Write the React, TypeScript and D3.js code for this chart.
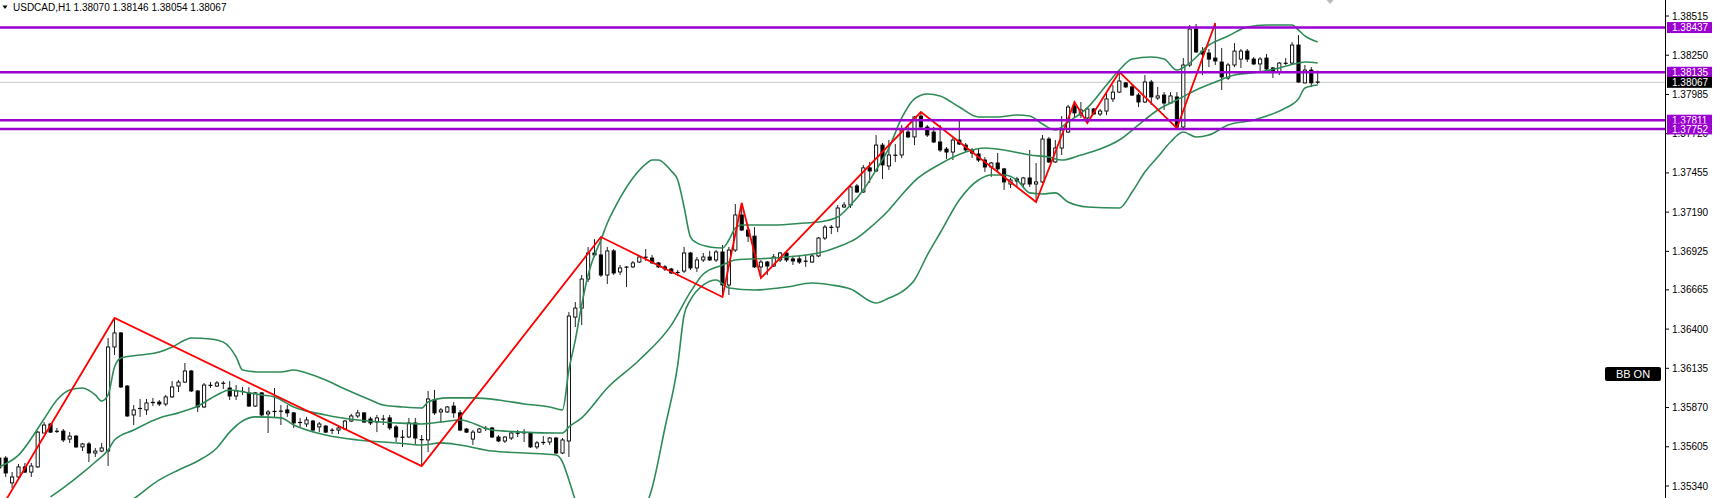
import * as d3 from "d3";

const symbol = "USDCAD,H1";
const lastQuote = ["1.38070", "1.38146", "1.38054", "1.38067"];

const opens = [
  1.35529, 1.35529, 1.35361, 1.35401, 1.35469, 1.35434, 1.35469, 1.35698, 1.35759, 1.35711,
  1.35711, 1.35657, 1.35677, 1.35604, 1.35624, 1.35563, 1.35576, 1.35576, 1.36279, 1.36374,
  1.36015, 1.3582, 1.3586, 1.35854, 1.35901, 1.35907, 1.35894, 1.35942, 1.36015, 1.36042,
  1.36117, 1.35982, 1.35874, 1.36022, 1.36015, 1.36036, 1.36002, 1.35948, 1.35982, 1.35969,
  1.3588, 1.35969, 1.35827, 1.35847, 1.35847, 1.35854, 1.35834, 1.35766, 1.35759, 1.35779,
  1.35739, 1.35745, 1.35718, 1.35718, 1.35725, 1.35779, 1.35813, 1.35834, 1.35793, 1.35772,
  1.35793, 1.358, 1.35739, 1.35671, 1.35671, 1.35766, 1.35651, 1.35651, 1.35921, 1.3584,
  1.3584, 1.3588, 1.35834, 1.35725, 1.35657, 1.35704, 1.35725, 1.35732, 1.35671, 1.35644,
  1.35664, 1.35698, 1.35698, 1.35698, 1.35604, 1.35631, 1.35637, 1.35664, 1.35563, 1.35644,
  1.36481, 1.36542, 1.36738, 1.36914, 1.36901, 1.36765, 1.36928, 1.36786, 1.3682, 1.3682,
  1.36853, 1.36887, 1.3688, 1.36847, 1.3682, 1.36806, 1.36779, 1.36792, 1.36914, 1.36813,
  1.36867, 1.36887, 1.36867, 1.36921, 1.36698, 1.36934, 1.37171, 1.37069, 1.37028, 1.3682,
  1.36853, 1.36826, 1.36867, 1.36914, 1.36874, 1.36874, 1.3686, 1.36853, 1.36894, 1.37015,
  1.37089, 1.37089, 1.37225, 1.37238, 1.37367, 1.37326, 1.37489, 1.37468, 1.37643, 1.37502,
  1.37576, 1.37576, 1.37731, 1.37698, 1.37839, 1.37765, 1.37731, 1.37664, 1.37616, 1.37596,
  1.37677, 1.37643, 1.3761, 1.37583, 1.37542, 1.37495, 1.37522, 1.37482, 1.3738, 1.37414,
  1.3738, 1.37421, 1.3738, 1.37394, 1.37684, 1.37529, 1.37623, 1.37731, 1.37907, 1.37846,
  1.37826, 1.37887, 1.37853, 1.37873, 1.37955, 1.38001, 1.38063, 1.38036, 1.37981, 1.37934,
  1.38069, 1.37961, 1.37981, 1.37927, 1.37968, 1.37765, 1.38184, 1.38427, 1.38278, 1.38265,
  1.38231, 1.38204, 1.38096, 1.38184, 1.38224, 1.38278, 1.38224, 1.38191, 1.38231, 1.38164,
  1.38137, 1.38197, 1.38197, 1.38319, 1.38063, 1.3815, 1.3807
];

const highs = [
  1.35542, 1.35542, 1.35434, 1.35489, 1.35496, 1.35496, 1.35711, 1.35772, 1.35766, 1.35732,
  1.35725, 1.35704, 1.35684, 1.35631, 1.35637, 1.35597, 1.35631, 1.3634, 1.36475, 1.3638,
  1.36022, 1.35887, 1.35928, 1.35928, 1.35935, 1.35921, 1.35955, 1.36049, 1.36056, 1.36171,
  1.36124, 1.35989, 1.36036, 1.36042, 1.36049, 1.36049, 1.36049, 1.36022, 1.36009, 1.36009,
  1.35975, 1.35975, 1.35854, 1.36002, 1.35887, 1.35887, 1.3584, 1.358, 1.35807, 1.35786,
  1.35772, 1.35752, 1.35732, 1.35752, 1.35786, 1.35827, 1.35854, 1.35836, 1.35807, 1.3582,
  1.3582, 1.3582, 1.35752, 1.35718, 1.358, 1.358, 1.35684, 1.35982, 1.35989, 1.35867,
  1.3588, 1.35907, 1.35854, 1.35732, 1.35718, 1.35732, 1.35745, 1.35739, 1.35684, 1.35677,
  1.35704, 1.35718, 1.35725, 1.35704, 1.35644, 1.35677, 1.35671, 1.35671, 1.35664, 1.36515,
  1.36583, 1.36765, 1.36955, 1.37008, 1.37022, 1.36955, 1.36941, 1.36833, 1.36826, 1.3686,
  1.369, 1.36941, 1.369, 1.36853, 1.36833, 1.36813, 1.36799, 1.36955, 1.36921, 1.36887,
  1.36914, 1.36928, 1.36934, 1.36968, 1.36955, 1.37245, 1.37252, 1.37089, 1.37089, 1.36867,
  1.3686, 1.36907, 1.36921, 1.36921, 1.36887, 1.36894, 1.369, 1.36907, 1.37022, 1.37103,
  1.37103, 1.37238, 1.37258, 1.3738, 1.3738, 1.37509, 1.37529, 1.37711, 1.37657, 1.37677,
  1.3765, 1.37779, 1.37779, 1.37839, 1.37866, 1.37779, 1.37765, 1.37779, 1.3763, 1.37691,
  1.37812, 1.37657, 1.37623, 1.37623, 1.37562, 1.37529, 1.3759, 1.37489, 1.37421, 1.37428,
  1.37428, 1.3761, 1.37522, 1.37711, 1.37698, 1.37677, 1.37839, 1.37914, 1.37934, 1.37934,
  1.37894, 1.37894, 1.37887, 1.38001, 1.38049, 1.38137, 1.38069, 1.38049, 1.37995, 1.38116,
  1.38083, 1.38036, 1.38001, 1.38001, 1.38001, 1.38231, 1.38454, 1.38461, 1.38305, 1.38292,
  1.38468, 1.38299, 1.38197, 1.38332, 1.38292, 1.38292, 1.38238, 1.38238, 1.38258, 1.3817,
  1.38204, 1.38231, 1.38339, 1.38386, 1.38184, 1.3817, 1.38146
];

const lows = [
  1.35434, 1.35401, 1.35327, 1.35381, 1.35428, 1.35401, 1.35462, 1.35698, 1.35698, 1.35698,
  1.35637, 1.35631, 1.35597, 1.35576, 1.35502, 1.35536, 1.35569, 1.35475, 1.36225, 1.36002,
  1.35807, 1.35752, 1.35807, 1.3582, 1.3588, 1.3588, 1.3588, 1.35935, 1.35975, 1.36036,
  1.35975, 1.3584, 1.35867, 1.36002, 1.36009, 1.35995, 1.35921, 1.35921, 1.35955, 1.35874,
  1.35874, 1.35807, 1.35698, 1.358, 1.35752, 1.35807, 1.35732, 1.35732, 1.35739, 1.35704,
  1.35704, 1.35698, 1.35691, 1.35691, 1.35718, 1.35772, 1.358, 1.35766, 1.35752, 1.35704,
  1.35752, 1.35718, 1.35637, 1.35604, 1.35664, 1.35617, 1.35475, 1.35569, 1.3582, 1.35766,
  1.35834, 1.358, 1.35711, 1.35698, 1.35617, 1.35698, 1.35711, 1.35664, 1.35637, 1.35631,
  1.35651, 1.35671, 1.35637, 1.35597, 1.3559, 1.35617, 1.35617, 1.35556, 1.35556, 1.35536,
  1.36414, 1.36427, 1.36718, 1.36887, 1.36752, 1.36705, 1.36765, 1.36765, 1.36684, 1.36813,
  1.36847, 1.3686, 1.3684, 1.36813, 1.36792, 1.36772, 1.36758, 1.36779, 1.36799, 1.36786,
  1.36853, 1.3686, 1.36853, 1.36617, 1.3663, 1.36921, 1.37062, 1.36988, 1.36813, 1.36745,
  1.36765, 1.3682, 1.36853, 1.36853, 1.36833, 1.3684, 1.3682, 1.36847, 1.36887, 1.37002,
  1.37042, 1.37055, 1.37218, 1.37218, 1.3732, 1.3732, 1.37387, 1.37462, 1.37414, 1.37475,
  1.37529, 1.37556, 1.37691, 1.37643, 1.37758, 1.37698, 1.37657, 1.37596, 1.37549, 1.37542,
  1.37643, 1.37596, 1.37556, 1.37529, 1.37462, 1.37428, 1.37455, 1.3734, 1.37353, 1.3736,
  1.3736, 1.3736, 1.37258, 1.37387, 1.37522, 1.37522, 1.37576, 1.37725, 1.37833, 1.37826,
  1.37792, 1.37846, 1.37839, 1.37846, 1.37934, 1.37995, 1.38029, 1.37975, 1.379, 1.37927,
  1.37914, 1.37948, 1.3788, 1.37921, 1.37758, 1.37758, 1.3817, 1.38265, 1.38116, 1.3817,
  1.38184, 1.38015, 1.38083, 1.3817, 1.38164, 1.38204, 1.38184, 1.38137, 1.38137, 1.38096,
  1.38116, 1.38184, 1.38184, 1.38063, 1.3806, 1.38036, 1.38054
];

const closes = [
  1.35462, 1.35428, 1.35401, 1.35469, 1.35434, 1.35475, 1.35704, 1.35752, 1.35704, 1.35708,
  1.35651, 1.35677, 1.35604, 1.35624, 1.35563, 1.35576, 1.35597, 1.36279, 1.36374, 1.36009,
  1.35813, 1.35854, 1.35867, 1.35901, 1.35907, 1.35894, 1.35942, 1.36009, 1.36042, 1.36117,
  1.35982, 1.35874, 1.36022, 1.36018, 1.36036, 1.36032, 1.35948, 1.35982, 1.35975, 1.3588,
  1.35969, 1.3582, 1.3584, 1.3584, 1.35844, 1.35834, 1.35766, 1.35772, 1.35786, 1.35718,
  1.35759, 1.35704, 1.35715, 1.35732, 1.35779, 1.35813, 1.35834, 1.35772, 1.35766, 1.358,
  1.3579, 1.35732, 1.35671, 1.35668, 1.35766, 1.35664, 1.35655, 1.35928, 1.35834, 1.35854,
  1.35874, 1.35834, 1.35718, 1.35704, 1.35704, 1.35725, 1.35732, 1.35671, 1.35644, 1.35671,
  1.35698, 1.35695, 1.35701, 1.35604, 1.35631, 1.35637, 1.35664, 1.35563, 1.35651, 1.36488,
  1.36542, 1.36738, 1.36914, 1.36901, 1.36765, 1.36928, 1.36779, 1.36813, 1.36817, 1.36847,
  1.36887, 1.36884, 1.36847, 1.3682, 1.36806, 1.36779, 1.36786, 1.36914, 1.36813, 1.36867,
  1.36887, 1.36867, 1.36921, 1.36698, 1.36934, 1.37171, 1.37069, 1.37028, 1.3682, 1.36853,
  1.36826, 1.36887, 1.36914, 1.36867, 1.3686, 1.36853, 1.36857, 1.36894, 1.37015, 1.37089,
  1.37086, 1.37218, 1.37238, 1.3736, 1.37326, 1.37489, 1.37468, 1.37643, 1.37509, 1.37576,
  1.37573, 1.37745, 1.37698, 1.37833, 1.37765, 1.37711, 1.37664, 1.3761, 1.37596, 1.37677,
  1.3765, 1.3761, 1.37589, 1.37542, 1.37495, 1.37522, 1.37482, 1.37394, 1.37407, 1.374,
  1.37421, 1.3738, 1.37394, 1.37684, 1.37529, 1.37623, 1.37745, 1.379, 1.3786, 1.3788,
  1.37887, 1.37853, 1.37873, 1.37955, 1.38001, 1.38076, 1.38036, 1.37981, 1.37934, 1.38069,
  1.37968, 1.37975, 1.37927, 1.37975, 1.37765, 1.38184, 1.38427, 1.38272, 1.38258, 1.38224,
  1.38211, 1.38103, 1.38184, 1.38278, 1.38278, 1.38224, 1.38191, 1.38224, 1.38157, 1.38137,
  1.38197, 1.38194, 1.38319, 1.38069, 1.3815, 1.38063, 1.38067
];

const upperBand: [number, number][] = [
  [0, 1.35469], [3, 1.35549], [7, 1.35793], [9, 1.35921], [11, 1.35989], [13, 1.36002], [15, 1.35955],
  [16, 1.35914], [17, 1.35955], [18, 1.36144], [19, 1.36205], [22, 1.36225], [25, 1.36245], [27, 1.36279],
  [29, 1.36326], [30, 1.3634], [33, 1.36333], [35, 1.36312], [37, 1.36212], [38, 1.36124], [41, 1.3611],
  [44, 1.3611], [46, 1.36124], [48, 1.36104], [51, 1.36056], [54, 1.35995], [58, 1.35921], [60, 1.35887],
  [63, 1.35874], [66, 1.35867], [67, 1.35907], [70, 1.35935], [74, 1.35935], [78, 1.35921], [82, 1.35894],
  [86, 1.35874], [88, 1.35854], [89, 1.36124], [90, 1.36326], [91, 1.36563], [92, 1.36765], [93, 1.369],
  [94, 1.37002], [95, 1.37117], [96, 1.37205], [97, 1.37286], [99, 1.37421], [101, 1.37515], [102, 1.37542],
  [103, 1.37542], [104, 1.37515], [105, 1.37468], [106, 1.37407], [107, 1.37225], [108, 1.37022], [109, 1.36982],
  [111, 1.36955], [113, 1.36948], [114, 1.37002], [115, 1.37083], [116, 1.37103], [121, 1.37103], [126, 1.37117],
  [128, 1.37123], [131, 1.37157], [133, 1.37238], [135, 1.3734], [137, 1.37475], [139, 1.37623], [141, 1.37826],
  [143, 1.37955], [145, 1.37988], [147, 1.37975], [150, 1.379], [153, 1.37833], [156, 1.37833], [159, 1.37846],
  [161, 1.37839], [163, 1.37785], [165, 1.37745], [167, 1.37799], [170, 1.37894], [173, 1.38049], [175, 1.3815],
  [177, 1.38224], [180, 1.38238], [182, 1.38224], [184, 1.3815], [186, 1.38197], [189, 1.38319], [192, 1.3838],
  [195, 1.38441], [198, 1.38454], [202, 1.38454], [203, 1.3842], [204, 1.3838], [206, 1.38339]
];

const middleBand: [number, number][] = [
  [8, 1.35266], [10, 1.35327], [13, 1.35428], [15, 1.35502], [17, 1.35583], [18, 1.35651], [21, 1.35718],
  [25, 1.358], [28, 1.35834], [31, 1.3588], [34, 1.35955], [36, 1.35989], [39, 1.35969], [41, 1.35955],
  [43, 1.35942], [46, 1.35874], [51, 1.3582], [56, 1.35786], [62, 1.35766], [66, 1.35759], [69, 1.35772],
  [72, 1.35786], [77, 1.35718], [82, 1.35704], [87, 1.35698], [88, 1.35698], [89, 1.35739], [91, 1.358],
  [95, 1.36002], [100, 1.36191], [105, 1.36427], [108, 1.36651], [110, 1.36772], [113, 1.36833], [115, 1.36867],
  [121, 1.3688], [126, 1.369], [128, 1.36914], [131, 1.36955], [134, 1.37015], [136, 1.37083], [139, 1.37205],
  [141, 1.37306], [143, 1.374], [147, 1.37515], [151, 1.37596], [154, 1.37623], [157, 1.3761], [161, 1.37576],
  [164, 1.37562], [166, 1.37542], [169, 1.37576], [172, 1.37616], [175, 1.37677], [178, 1.37779], [181, 1.3788],
  [184, 1.37948], [187, 1.38015], [190, 1.38069], [193, 1.38116], [197, 1.38137], [200, 1.38164], [203, 1.38197],
  [204, 1.38204], [206, 1.38197]
];

const lowerBand: [number, number][] = [
  [14, 1.35043], [18, 1.35164], [21, 1.35253], [25, 1.35381], [28, 1.35448], [31, 1.35509], [34, 1.35597],
  [36, 1.35704], [38, 1.35779], [40, 1.35807], [44, 1.358], [46, 1.35752], [51, 1.35684], [56, 1.35651],
  [62, 1.35631], [66, 1.35617], [69, 1.35631], [72, 1.35617], [77, 1.35576], [82, 1.35563], [87, 1.35549],
  [88, 1.35502], [89, 1.35381], [90, 1.35246], [92, 1.35111], [95, 1.35009], [98, 1.35009], [100, 1.35111],
  [102, 1.35327], [104, 1.35732], [106, 1.36157], [107, 1.36495], [108, 1.36597], [110, 1.36698], [112, 1.36732],
  [114, 1.36678], [118, 1.36664], [123, 1.36684], [127, 1.36711], [130, 1.36698], [133, 1.36671], [137, 1.36576],
  [139, 1.3661], [141, 1.36651], [143, 1.36732], [145, 1.369], [147, 1.37049], [150, 1.37272], [153, 1.37407],
  [155, 1.37441], [157, 1.37441], [159, 1.37407], [161, 1.3732], [163, 1.37313], [165, 1.3732], [167, 1.37258],
  [170, 1.37225], [175, 1.37218], [177, 1.37326], [179, 1.37461], [181, 1.37562], [183, 1.37664], [185, 1.37731],
  [187, 1.37698], [189, 1.37711], [192, 1.37779], [196, 1.37812], [198, 1.37839], [201, 1.37894], [203, 1.37955],
  [204, 1.38029], [206, 1.38049]
];

// ZigZag turning points (bar index, price)
const zigzag: [number, number][] = [
  [-1, 1.35097], [18, 1.36475], [66, 1.35475], [94, 1.37022], [113, 1.36617], [116, 1.37252], [119, 1.36745],
  [144, 1.37866], [162, 1.37258], [168, 1.37934], [170, 1.37792], [175, 1.38137], [184, 1.37758], [190, 1.38468]
];

const levels = [1.38437, 1.38135, 1.37811, 1.37752];
const currentPrice = 1.38067;
const tickLabels = [
  "1.38515", "1.38250", "1.37985", "1.37720", "1.37455", "1.37190", "1.36925",
  "1.36665", "1.36400", "1.36135", "1.35870", "1.35605", "1.35340"
];

const W = 1716;
const H = 498;
const axisX = 1665;
const font = "'Liberation Sans', Arial, sans-serif";
const purple = "#9a00d0";
const green = "#2e8b57";

export default function App() {
  const x = d3.scaleLinear().domain([0, 206]).range([-0.7, 1317.7]);
  const y = d3.scaleLinear().domain([1.3534, 1.38515]).range([486, 16]);
  const band = d3
    .line<[number, number]>()
    .x((d) => x(d[0]))
    .y((d) => y(d[1]))
    .curve(d3.curveMonotoneX);
  const zz = d3
    .line<[number, number]>()
    .x((d) => x(d[0]))
    .y((d) => y(d[1]));

  return (
    <svg
      width={W}
      height={H}
      viewBox={`0 0 ${W} ${H}`}
      style={{ position: "fixed", left: 0, top: 0, background: "#fff" }}
    >
      <defs>
        <clipPath id="plot">
          <rect x="0" y="0" width={axisX} height={H} />
        </clipPath>
      </defs>
      <rect x="0" y="0" width={W} height={H} fill="#fff" />

      <g clipPath="url(#plot)">
        <line x1="0" x2={axisX} y1={y(currentPrice)} y2={y(currentPrice)} stroke="#c8c8c8" strokeWidth="1" />

        {opens.map((o, i) => {
          const c = closes[i];
          const cx = x(i);
          const top = y(Math.max(o, c));
          const bottom = y(Math.min(o, c));
          const up = c >= o;
          const flat = bottom - top < 1.2;
          return (
            <g key={i}>
              <line x1={cx} x2={cx} y1={y(highs[i])} y2={y(lows[i])} stroke="#222" strokeWidth="1" />
              {flat ? (
                <line x1={cx - 2} x2={cx + 2} y1={(top + bottom) / 2} y2={(top + bottom) / 2} stroke="#000" strokeWidth="1.2" />
              ) : (
                <rect
                  x={cx - 1.6}
                  y={top}
                  width={3.2}
                  height={bottom - top}
                  fill={up ? "#fff" : "#000"}
                  stroke="#000"
                  strokeWidth="0.9"
                />
              )}
            </g>
          );
        })}

        {[upperBand, middleBand, lowerBand].map((b, k) => (
          <path key={k} d={band(b) ?? ""} fill="none" stroke={green} strokeWidth="1.6" />
        ))}

        <path d={zz(zigzag) ?? ""} fill="none" stroke="#ff0000" strokeWidth="1.8" />

        {levels.map((lv) => (
          <line key={lv} x1="0" x2={axisX} y1={y(lv)} y2={y(lv)} stroke={purple} strokeWidth="2.4" />
        ))}
      </g>

      {/* header */}
      <path d="M2.5,5.5 L7.5,5.5 L5,9 Z" fill="#000" />
      <text x="13" y="11" fontFamily={font} fontSize="10" fill="#000">
        {`${symbol}  ${lastQuote.join(" ")}`}
      </text>

      {/* chart shift marker */}
      <path d="M1326.5,0 L1333.5,0 L1330,4 Z" fill="#bbb" />

      {/* price axis */}
      <line x1={axisX + 0.5} x2={axisX + 0.5} y1="0" y2={H} stroke="#000" strokeWidth="1" />
      {tickLabels.map((t) => (
        <g key={t}>
          <line x1={axisX} x2={axisX + 4} y1={y(+t)} y2={y(+t)} stroke="#000" />
          <text x={axisX + 7} y={y(+t) + 3.5} fontFamily={font} fontSize="10" fill="#000">
            {t}
          </text>
        </g>
      ))}

      {levels.map((lv) => (
        <g key={lv}>
          <rect x={axisX + 2} y={y(lv) - 5.5} width="45" height="11" fill={purple} />
          <text x={axisX + 7} y={y(lv) + 3.6} fontFamily={font} fontSize="10" fill="#fff">
            {lv.toFixed(5)}
          </text>
        </g>
      ))}
      <rect x={axisX + 2} y={y(currentPrice) - 5.5} width="45" height="11" fill="#000" />
      <text x={axisX + 7} y={y(currentPrice) + 3.6} fontFamily={font} fontSize="10" fill="#fff">
        {currentPrice.toFixed(5)}
      </text>

      <rect x="1605" y="367" width="56" height="14" rx="2" fill="#000" />
      <text x="1633" y="378" textAnchor="middle" fontFamily={font} fontSize="11" fill="#fff">
        BB ON
      </text>
    </svg>
  );
}
